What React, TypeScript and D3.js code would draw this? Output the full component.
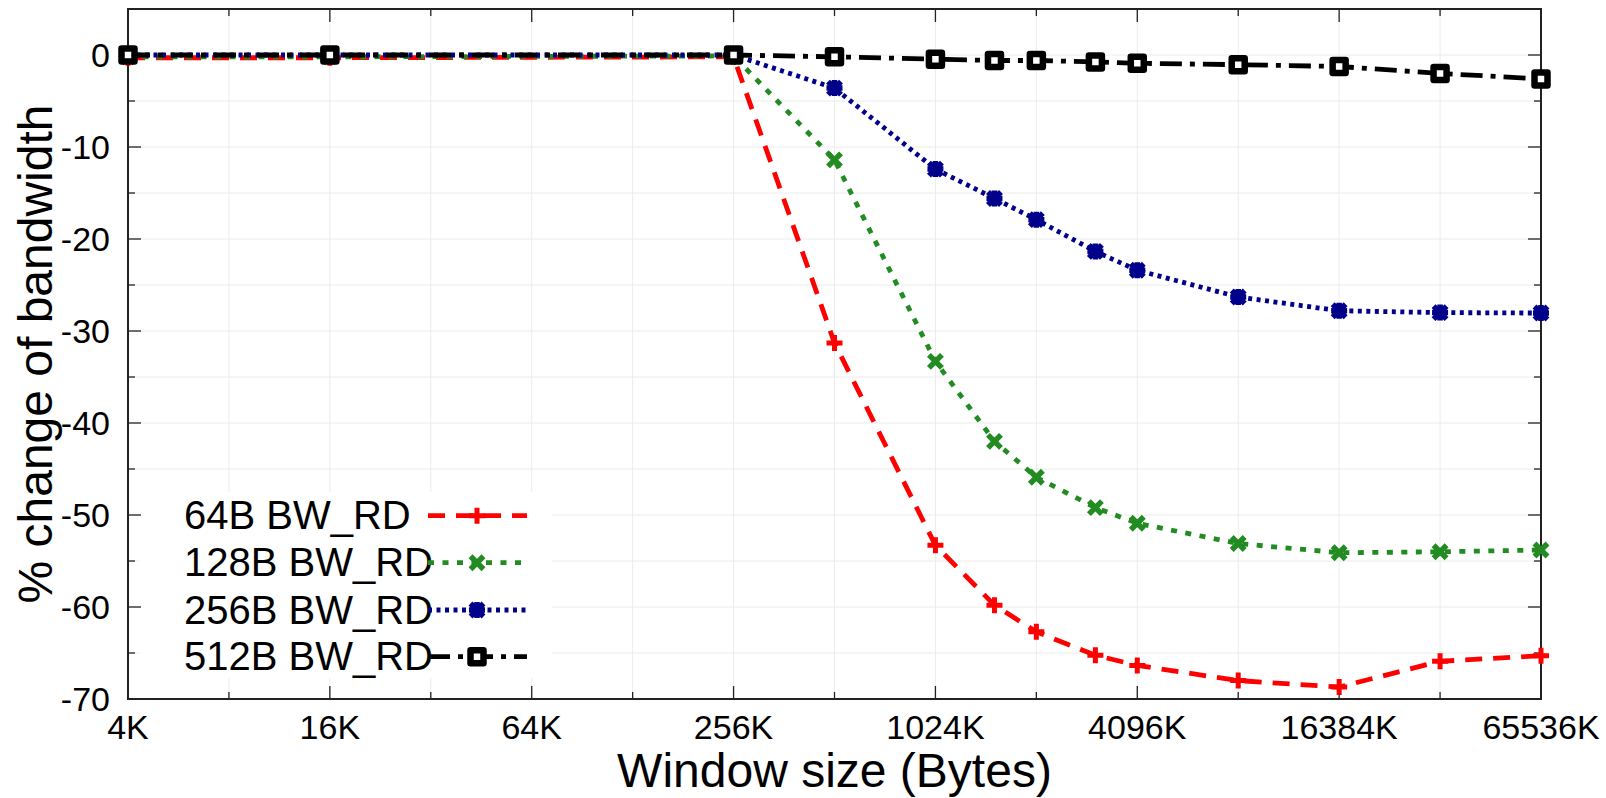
import React from "react";
import * as d3 from "d3";

// window sizes in KB
const windowKB = [4, 16, 256, 512, 1024, 1536, 2048, 3072, 4096, 8192, 16384, 32768, 65536];
const bw64 = [-0.3, -0.3, -0.2, -31.3, -53.3, -59.8, -62.7, -65.25, -66.35, -68.0, -68.7, -65.9, -65.3];
const bw128 = [-0.2, -0.2, -0.1, -11.4, -33.3, -42.0, -45.9, -49.2, -50.9, -53.1, -54.1, -54.0, -53.8];
const bw256 = [0, 0, 0, -3.6, -12.4, -15.6, -17.9, -21.35, -23.4, -26.3, -27.8, -28.0, -28.05];
const bw512 = [0, 0, 0, -0.2, -0.45, -0.6, -0.6, -0.75, -0.9, -1.05, -1.25, -2.0, -2.6];

const seriesNames = ["64B BW_RD", "128B BW_RD", "256B BW_RD", "512B BW_RD"];
const xTickKB = [4, 8, 16, 32, 64, 128, 256, 512, 1024, 2048, 4096, 8192, 16384, 32768, 65536];
const xLabelKB = [4, 16, 64, 256, 1024, 4096, 16384, 65536];
const yTicks = [0, -5, -10, -15, -20, -25, -30, -35, -40, -45, -50, -55, -60, -65, -70];
const yLabels = [0, -10, -20, -30, -40, -50, -60, -70];

const W = 1606;
const H = 798;
const L = 128, R = 1541, T = 9, B = 699;
const FONT = "'Liberation Sans', Arial, Helvetica, sans-serif";

type Style = { color: string; dash: string; marker: string };
const styles: Style[] = [
  { color: "#ff0000", dash: "17,11", marker: "plus" },
  { color: "#228b22", dash: "6,8.5", marker: "cross" },
  { color: "#00008b", dash: "4,4.5", marker: "star" },
  { color: "#000000", dash: "22,8,5,8", marker: "square" },
];

function Marker({ kind, x, y, color }: { kind: string; x: number; y: number; color: string }) {
  const t = `translate(${x},${y})`;
  if (kind === "plus") {
    return <path transform={t} d="M-8,0H8M0,-8V8" stroke={color} strokeWidth={5} fill="none" />;
  }
  if (kind === "cross") {
    return <path transform={t} d="M-6.5,-6.5L6.5,6.5M-6.5,6.5L6.5,-6.5" stroke={color} strokeWidth={5.5} fill="none" />;
  }
  if (kind === "star") {
    return (
      <path
        transform={t}
        d="M-8,0H8M0,-8V8M-6.5,-6.5L6.5,6.5M-6.5,6.5L6.5,-6.5"
        stroke={color}
        strokeWidth={5.5}
        fill="none"
      />
    );
  }
  return (
    <rect
      transform={t}
      x={-6.5}
      y={-6.5}
      width={13}
      height={13}
      fill="#fff"
      stroke={color}
      strokeWidth={6.5}
      strokeLinejoin="round"
    />
  );
}

export default function App() {
  const x = d3.scaleLog().base(2).domain([4, 65536]).range([L, R]);
  const y = d3.scaleLinear().domain([-70, 5]).range([B, T]);
  const data = [bw64, bw128, bw256, bw512];
  const line = d3
    .line<[number, number]>()
    .x((d) => x(d[0]))
    .y((d) => y(d[1]));

  const isMajorX = (v: number) => xLabelKB.includes(v);
  const isMajorY = (v: number) => v % 10 === 0;

  const legendRows = [515.7, 562.7, 610, 656.7];

  return (
    <svg
      width={W}
      height={H}
      style={{ position: "absolute", left: 0, top: 0, background: "#fff" }}
      fontFamily={FONT}
    >
      <rect x={0} y={0} width={W} height={H} fill="#fff" />
      {/* grid */}
      <g stroke="#ececec" strokeWidth={1}>
        {xTickKB.slice(1, -1).map((v) => (
          <line key={"gx" + v} x1={x(v)} x2={x(v)} y1={T} y2={B} />
        ))}
        {yTicks.slice(1, -1).map((v) => (
          <line key={"gy" + v} x1={L} x2={R} y1={y(v)} y2={y(v)} />
        ))}
        <line x1={L} x2={R} y1={y(0)} y2={y(0)} />
      </g>

      {/* legend background */}
      <rect x={140} y={492} width={412} height={186} fill="#fff" />

      {/* ticks */}
      <g stroke="#222" strokeWidth={1.3}>
        {xTickKB.map((v) => {
          const len = isMajorX(v) ? 13 : 7;
          return (
            <g key={"tx" + v}>
              <line x1={x(v)} x2={x(v)} y1={B} y2={B - len} />
              <line x1={x(v)} x2={x(v)} y1={T} y2={T + len} />
            </g>
          );
        })}
        {yTicks.map((v) => {
          const len = isMajorY(v) ? 13 : 7;
          return (
            <g key={"ty" + v}>
              <line x1={L} x2={L + len} y1={y(v)} y2={y(v)} />
              <line x1={R} x2={R - len} y1={y(v)} y2={y(v)} />
            </g>
          );
        })}
      </g>

      {/* frame */}
      <rect x={L} y={T} width={R - L} height={B - T} fill="none" stroke="#222" strokeWidth={2} />

      {/* series lines */}
      {data.map((vals, i) => {
        const pts: [number, number][] = windowKB.map((k, j) => [k, vals[j]]);
        return (
          <path
            key={"l" + i}
            d={line(pts) || ""}
            fill="none"
            stroke={styles[i].color}
            strokeWidth={4.8}
            strokeDasharray={styles[i].dash}
          />
        );
      })}
      {data.map((vals, i) => (
        <g key={"m" + i}>
          {windowKB.map((k, j) => (
            <Marker key={j} kind={styles[i].marker} x={x(k)} y={y(vals[j])} color={styles[i].color} />
          ))}
        </g>
      ))}

      {/* tick labels */}
      <g fontSize={34} fill="#000">
        {xLabelKB.map((v) => (
          <text key={"xl" + v} x={x(v)} y={739} textAnchor="middle">
            {v + "K"}
          </text>
        ))}
        {yLabels.map((v) => (
          <text key={"yl" + v} x={110} y={y(v) + 12} textAnchor="end">
            {String(v)}
          </text>
        ))}
      </g>

      {/* legend */}
      {seriesNames.map((name, i) => (
        <g key={"lg" + i}>
          <text x={184} y={legendRows[i] + 13.5} fontSize={40} fill="#000">
            {name}
          </text>
          <line
            x1={428}
            x2={527}
            y1={legendRows[i]}
            y2={legendRows[i]}
            stroke={styles[i].color}
            strokeWidth={4.8}
            strokeDasharray={styles[i].dash}
          />
          <Marker kind={styles[i].marker} x={477} y={legendRows[i]} color={styles[i].color} />
        </g>
      ))}

      {/* axis titles */}
      <text x={(L + R) / 2} y={787} fontSize={48} textAnchor="middle" fill="#000">
        Window size (Bytes)
      </text>
      <text
        transform={`translate(52,${(T + B) / 2}) rotate(-90)`}
        fontSize={48}
        textAnchor="middle"
        fill="#000"
      >
        % change of bandwidth
      </text>
    </svg>
  );
}
